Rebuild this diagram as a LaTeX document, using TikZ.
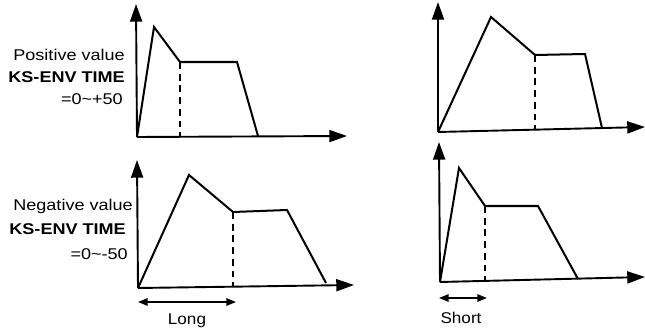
\documentclass[tikz,border=0pt]{standalone}
\usepackage{fontspec}
\setmainfont{Liberation Sans}
\usetikzlibrary{arrows.meta,positioning}

\begin{document}
\begin{tikzpicture}[
			x=0.035cm,y=-0.035cm,
			axis/.style={line width=1.9pt,-{Triangle[length=6.2mm,width=4.2mm]}},
			env/.style={line width=2pt,line join=miter},
			hold/.style={line width=1.7pt,dash pattern=on 2.4mm off 1.7mm},
			span/.style={line width=1.7pt,{Triangle[length=3.4mm,width=2.6mm]}-{Triangle[length=3.4mm,width=2.6mm]}},
			lbl/.style={anchor=east,inner sep=0pt,xscale=1.16,font=\fontsize{15.5}{18}\selectfont},
			spanlbl/.style={inner sep=0pt,xscale=1.1,font=\fontsize{15.5}{18}\selectfont}
			]
			\useasboundingbox (0,0) rectangle (645,335);
			% positive value, long
			\coordinate (o1) at (137,137);
			\coordinate (y1) at (136,4);
			\coordinate (x1) at (347,136);
			\coordinate (p1) at (154,27);
			\coordinate (s1) at (180,62);
			\coordinate (e1) at (237,62);
			\coordinate (r1) at (258,136);
			\draw[axis] (o1) -- (y1);
			\draw[axis] (o1) -- (x1);
			\draw[env] (o1) -- (p1) -- (s1) -- (e1) -- (r1);
			\draw[hold] (s1) -- (s1 |- o1);
			\node[lbl] (pos) at (125,55) {Positive value};
			\node[lbl] (ks1) at (125,77) {\bfseries KS-ENV TIME};
			\node[lbl] (rng1) at (123,99) {=0\textasciitilde+50};
			% positive value, short
			\coordinate (o2) at (438,132);
			\coordinate (y2) at (438,2);
			\coordinate (x2) at (645,127);
			\coordinate (p2) at (491,17);
			\coordinate (s2) at (535,55);
			\coordinate (e2) at (585,54);
			\coordinate (r2) at (602,128);
			\draw[axis] (o2) -- (y2);
			\draw[axis] (o2) -- (x2);
			\draw[env] (o2) -- (p2) -- (s2) -- (e2) -- (r2);
			\draw[hold] (s2) -- (535,130);
			% negative value, long
			\coordinate (o3) at (138,288);
			\coordinate (y3) at (137,160);
			\coordinate (x3) at (354,285);
			\coordinate (p3) at (189,175);
			\coordinate (s3) at (233,212);
			\coordinate (e3) at (287,210);
			\coordinate (r3) at (326,283);
			\draw[axis] (o3) -- (y3);
			\draw[axis] (o3) -- (x3);
			\draw[env] (o3) -- (p3) -- (s3) -- (e3) -- (r3);
			\draw[hold] (s3) -- (233,287);
			\node[lbl] (neg) at (133,206) {Negative value};
			\node[lbl] (ks2) at (126,229) {\bfseries KS-ENV TIME};
			\node[lbl] (rng2) at (128,254) {=0\textasciitilde-50};
			\coordinate (la) at (138,302);
			\coordinate (lb) at (236,302);
			\draw[span] (la) -- (lb);
			\node[spanlbl] (long) at (187,321) {Long};
			% negative value, short
			\coordinate (o4) at (440,282);
			\coordinate (y4) at (439,142);
			\coordinate (x4) at (645,277);
			\coordinate (p4) at (459,168);
			\coordinate (s4) at (485,206);
			\coordinate (e4) at (538,206);
			\coordinate (r4) at (578,279);
			\draw[axis] (o4) -- (y4);
			\draw[axis] (o4) -- (x4);
			\draw[env] (o4) -- (p4) -- (s4) -- (e4) -- (r4);
			\draw[hold] (s4) -- (485,281);
			\coordinate (sa) at (439,298);
			\coordinate (sb) at (487,298);
			\draw[span] (sa) -- (sb);
			\node[spanlbl] (short) at (461,318) {Short};
		\end{tikzpicture}
\end{document}
